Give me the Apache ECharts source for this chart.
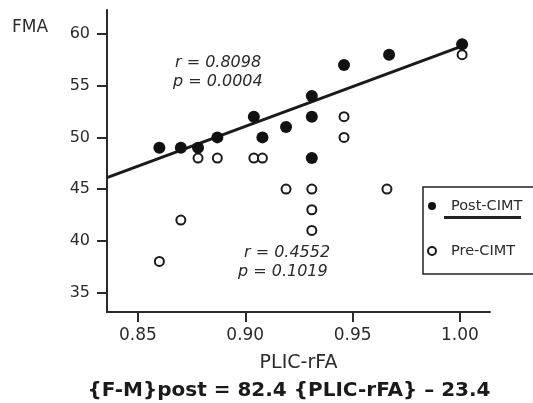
<!DOCTYPE html>
<html>
<head>
<meta charset="utf-8">
<script src="https://cdn.jsdelivr.net/npm/echarts@6/dist/echarts.min.js"></script>
<style>
html,body{margin:0;padding:0;background:#fff;}
#chart{width:533px;height:403px;}
</style>
</head>
<body>
<div id="chart"></div>
<script>
// ---- data ----
const xTicks = [0.85, 0.90, 0.95, 1.00];
const yTicks = [35, 40, 45, 50, 55, 60];

const postX = [0.860, 0.870, 0.878, 0.887, 0.904, 0.908, 0.919, 0.931, 0.931, 0.931, 0.946, 0.967, 1.001];
const postY = [49, 49, 49, 50, 52, 50, 51, 54, 52, 48, 57, 58, 59];

const preX = [0.860, 0.870, 0.878, 0.887, 0.904, 0.908, 0.919, 0.931, 0.931, 0.931, 0.946, 0.946, 0.966, 1.001];
const preY = [38, 42, 48, 48, 48, 48, 45, 45, 43, 41, 52, 50, 45, 58];

const fitX = [0.8356, 1.00];
const fitY = [46.1, 58.75];

const seriesNames = ['Post-CIMT', 'Pre-CIMT'];
const xName = 'PLIC-rFA';
const yName = 'FMA';
const statsPost = ['r = 0.8098', 'p = 0.0004'];
const statsPre = ['r = 0.4552', 'p = 0.1019'];
const equation = '{F-M}post = 82.4 {PLIC-rFA} \u2013 23.4';

// ---- chart ----
const zip = (a, b) => a.map((v, i) => [v, b[i]]);
const FONT = 'DejaVu Sans';
const INK = '#2b2b2b';

const chart = echarts.init(document.getElementById('chart'), null, {renderer: 'canvas'});
chart.setOption({
  animation: false,
  backgroundColor: '#fff',
  grid: {left: 107, right: 43, top: 10, bottom: 91, containLabel: false},
  xAxis: {
    type: 'value',
    min: 0.8356, max: 1.014,
    name: xName, nameLocation: 'middle', nameGap: 42,
    nameTextStyle: {fontFamily: FONT, fontSize: 19, color: INK},
    splitLine: {show: false},
    axisLine: {show: true, onZero: false, lineStyle: {color: INK, width: 2}},
    axisTick: {show: true, customValues: xTicks, length: 10, lineStyle: {color: INK, width: 2}},
    axisLabel: {customValues: xTicks, margin: 15, fontFamily: FONT, fontSize: 17, color: INK,
      formatter: v => v.toFixed(2)}
  },
  yAxis: {
    type: 'value',
    min: 33.11, max: 62.32,
    splitLine: {show: false},
    axisLine: {show: true, onZero: false, lineStyle: {color: INK, width: 2}},
    axisTick: {show: true, customValues: yTicks, length: 10, lineStyle: {color: INK, width: 2}},
    axisLabel: {customValues: yTicks, margin: 17, fontFamily: FONT, fontSize: 16, color: INK}
  },
  legend: {
    orient: 'vertical', left: 423, top: 187,
    padding: [11.5, 40, 15.5, 4],
    itemGap: 30, itemWidth: 8, itemHeight: 8,
    borderColor: '#222', borderWidth: 1.5,
    data: seriesNames,
    formatter: '{a|{name}}',
    textStyle: {fontFamily: FONT, fontSize: 14.5, color: INK,
      rich: {a: {fontFamily: FONT, fontSize: 14.5, color: INK, padding: [0, 0, 0, 10]}}}
  },
  series: [
    {
      name: 'fit', type: 'line', data: zip(fitX, fitY), showSymbol: false, symbol: 'none',
      lineStyle: {color: '#1a1a1a', width: 3}, silent: true, z: 2
    },
    {
      name: seriesNames[1], type: 'scatter', data: zip(preX, preY),
      symbol: 'circle', symbolSize: 9,
      itemStyle: {color: '#fff', borderColor: '#1a1a1a', borderWidth: 2, opacity: 1},
      z: 3
    },
    {
      name: seriesNames[0], type: 'scatter', data: zip(postX, postY),
      symbol: 'circle', symbolSize: 12,
      itemStyle: {color: '#111', opacity: 1},
      z: 4
    }
  ],
  graphic: [
    {type: 'text', left: 12, top: 19, style: {text: yName, font: '17px "' + FONT + '"', fill: INK}},
    {type: 'text', x: 175, y: 63, style: {text: statsPost[0], font: 'italic 16px "' + FONT + '"', fill: INK, textAlign: 'left', textVerticalAlign: 'middle'}},
    {type: 'text', x: 173, y: 82, style: {text: statsPost[1], font: 'italic 16px "' + FONT + '"', fill: INK, textAlign: 'left', textVerticalAlign: 'middle'}},
    {type: 'text', x: 244, y: 252.5, style: {text: statsPre[0], font: 'italic 16px "' + FONT + '"', fill: INK, textAlign: 'left', textVerticalAlign: 'middle'}},
    {type: 'text', x: 238, y: 271.5, style: {text: statsPre[1], font: 'italic 16px "' + FONT + '"', fill: INK, textAlign: 'left', textVerticalAlign: 'middle'}},
    {type: 'rect', shape: {x: 444, y: 216, width: 77, height: 3}, style: {fill: '#222'}},
    {type: 'text', x: 289, y: 391, style: {text: equation, font: 'bold 20px "' + FONT + '"', fill: '#1a1a1a', textAlign: 'center', textVerticalAlign: 'middle'}}
  ]
});
</script>
</body>
</html>
